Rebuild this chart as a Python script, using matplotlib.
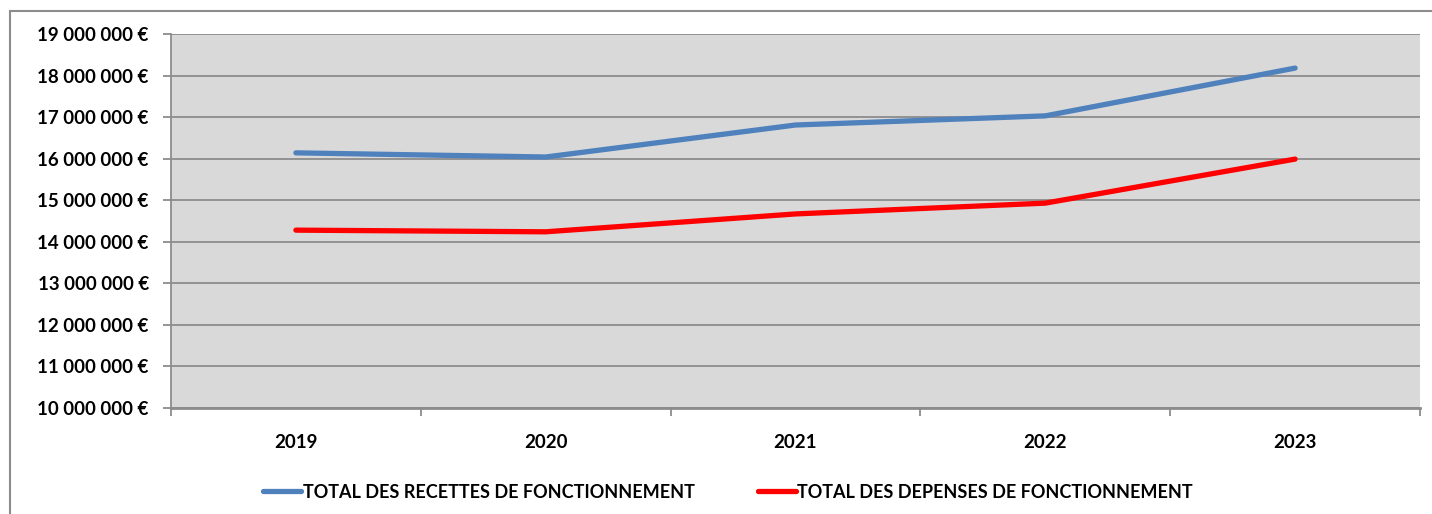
import matplotlib
matplotlib.use("Agg")
import matplotlib.pyplot as plt
import matplotlib.ticker as mticker
from matplotlib.patches import Rectangle
import numpy as np

years = ["2019", "2020", "2021", "2022", "2023"]
recettes = [16.14e6, 16.04e6, 16.81e6, 17.03e6, 18.18e6]
depenses = [14.28e6, 14.24e6, 14.67e6, 14.93e6, 15.99e6]
labels = ["TOTAL DES RECETTES DE FONCTIONNEMENT", "TOTAL DES DEPENSES DE FONCTIONNEMENT"]
colors = ["#4F81BD", "#FF0000"]

W, H = 1432, 514
plt.rcParams['font.family'] = ['Lato', 'DejaVu Sans']
fs = 13.5

fig = plt.figure(figsize=(W / 100, H / 100), dpi=100)
ax = fig.add_axes([171 / W, 1 - 408 / H, (1420 - 171) / W, (408 - 34) / H])

# outer chart frame
fig.patches.append(Rectangle((10 / W, -0.1), 1.2, 1 - 11 / H + 0.1, transform=fig.transFigure,
                             fill=False, edgecolor="#8c8c8c", linewidth=1.5, zorder=0))

ax.set_facecolor("#D9D9D9")
x = np.arange(len(years))
for vals, c, lab in zip([recettes, depenses], colors, labels):
    ax.plot(x, vals, color=c, linewidth=3.8, label=lab, solid_capstyle="round", zorder=3)

ax.set_xlim(-0.5, len(years) - 0.5)
ax.set_ylim(10e6, 19e6)
ax.set_yticks(np.arange(10e6, 19e6 + 1, 1e6))
ax.yaxis.set_major_formatter(mticker.FuncFormatter(
    lambda v, p: "{:,.0f} €".format(v).replace(",", " ")))
ax.grid(axis="y", color="#8c8c8c", linewidth=1.3)
ax.set_axisbelow(True)

ax.set_xticks(x)
ax.set_xticklabels(years)
ax.set_xticks(np.arange(-0.5, len(years), 1), minor=True)
ax.tick_params(axis="x", which="major", length=0, pad=19, labelsize=fs)
ax.tick_params(axis="x", which="minor", length=6, color="#8c8c8c", width=1.3)
ax.tick_params(axis="y", length=6, color="#8c8c8c", width=1.3, pad=10, labelsize=fs)
for t in ax.get_xticklabels() + ax.get_yticklabels():
    t.set_fontweight("bold")

for s in ["top", "right"]:
    ax.spines[s].set_visible(False)
ax.spines["left"].set_color("#8c8c8c")
ax.spines["left"].set_linewidth(1.3)
ax.spines["bottom"].set_color("#8c8c8c")
ax.spines["bottom"].set_linewidth(2)

fig.legend(loc="center", bbox_to_anchor=(728 / W, 1 - 492 / H), ncol=2, frameon=False,
           prop={"size": 13, "weight": "bold"}, handlelength=2.1, handletextpad=0.1,
           columnspacing=3.5)

fig.savefig("out.png", dpi=100)
